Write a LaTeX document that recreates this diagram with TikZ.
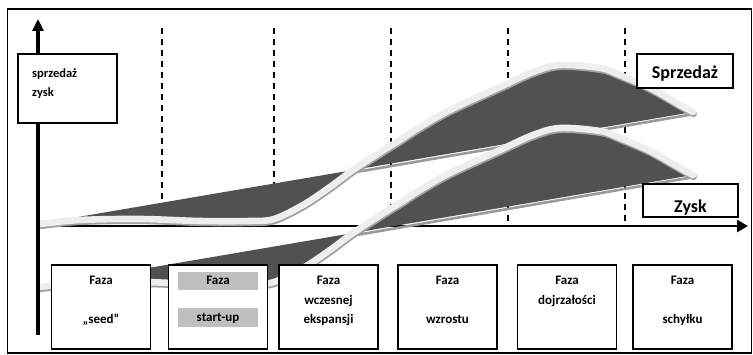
\documentclass[tikz,border=0pt]{standalone}
\usepackage{fontspec}
\setmainfont{Carlito}
\usetikzlibrary{arrows.meta}
\definecolor{ribdark}{HTML}{515151}
\definecolor{bandcol}{HTML}{EEEEEE}
\definecolor{bandshadow}{HTML}{A0A0A0}
\definecolor{edgeshadow}{HTML}{9A9A9A}
\definecolor{barcol}{HTML}{BFBFBF}
\newcommand\myribbon{%
  \draw[edgeshadow, line width=2.6pt] (80,219.5) -- (693,114.2);
  \fill[ribdark] plot[smooth,tension=0.55] coordinates {(40,224) (80,220) (140,219) (200,221) (250,221) (274,219) (303,205) (330,187) (353,170) (387,148) (400,140) (420,127) (450,110) (500,87) (533,72) (560,65) (600,68) (620,75) (650,88) (680,105) (693,112)} -- (78,217) -- cycle;
  \begin{scope}[shift={(0.6,1.8)}]
    \draw[bandshadow, line width=6.6pt, line cap=round] plot[smooth,tension=0.55] coordinates {(40,224) (80,220) (140,219) (200,221) (250,221) (274,219) (303,205) (330,187) (353,170) (387,148) (400,140) (420,127) (450,110) (500,87) (533,72) (560,65) (600,68) (620,75) (650,88) (680,105) (693,112)};
  \end{scope}
  \draw[bandcol, line width=6.6pt, line cap=round] plot[smooth,tension=0.55] coordinates {(40,224) (80,220) (140,219) (200,221) (250,221) (274,219) (303,205) (330,187) (353,170) (387,148) (400,140) (420,127) (450,110) (500,87) (533,72) (560,65) (600,68) (620,75) (650,88) (680,105) (693,112)};
}
\begin{document}
\begin{tikzpicture}[x=1pt,y=-1pt,
  dashline/.style={black, line width=1.8pt, dash pattern=on 6pt off 5pt},
  axisline/.style={black, line width=2.8pt},
  framebox/.style={draw=black, line width=1.8pt, fill=white, inner sep=0pt},
  phasebox/.style={framebox, minimum width=99pt, minimum height=84pt},
  ptext/.style={anchor=base, font=\bfseries\fontsize{13}{15}\selectfont, inner sep=0pt},
  ytext/.style={anchor=base west, font=\bfseries\fontsize{12.5}{15}\selectfont, inner sep=0pt},
  bigtext/.style={anchor=base, font=\bfseries\fontsize{18}{20}\selectfont, inner sep=0pt},
  graybar/.style={fill=barcol, minimum width=80pt, inner sep=0pt}
]
\useasboundingbox (0,0) rectangle (753,355);
\draw[black, line width=1.5pt] (7.5,9) rectangle (751.5,353);

% dashed phase separators
\foreach \x/\n in {162/d1,274/d2,391/d3,508/d4,625/d5}{
  \coordinate (\n t) at (\x,28);
  \coordinate (\n b) at (\x,226);
  \draw[dashline] (\n t) -- (\n b);
}

% x axis
\coordinate (xl) at (37,226);
\coordinate (xr) at (748,226);
\draw[axisline, -{Triangle[length=11pt,width=12pt]}] (xl) -- (xr);

% sales ribbon
\myribbon
% profit ribbon
\begin{scope}[shift={(0,63)}]
\myribbon
\end{scope}

% y axis
\coordinate (yb) at (38,335);
\coordinate (yt) at (38,19);
\draw[axisline, line width=3.2pt, -{Triangle[length=12pt,width=11pt]}] (yb) -- (yt);

% y label box
\node[framebox, minimum width=99pt, minimum height=69pt] (ylab) at (67.5,88.5) {};
\node[ytext] (ylab1) at (32,78) {sprzedaż};
\node[ytext] (ylab2) at (32,97) {zysk};

% curve labels
\node[framebox, minimum width=96pt, minimum height=34pt] (sbox) at (685,71) {};
\node[bigtext] (stext) at (685,79) {Sprzedaż};
\node[framebox, minimum width=95pt, minimum height=33pt] (zbox) at (690.5,200.5) {};
\node[bigtext] (ztext) at (690.5,212.5) {Zysk};

% phase boxes
\node[phasebox] (p1) at (101,307) {};
\node[ptext] (p1a) at (101,285) {Faza};
\node[ptext] (p1b) at (101,324) {„seed”};

\node[phasebox] (p2) at (218,307) {};
\node[graybar, minimum height=18pt] (p2bar1) at (218,281) {};
\node[graybar, minimum height=19pt] (p2bar2) at (218,317.5) {};
\node[ptext] (p2a) at (218,285) {Faza};
\node[ptext] (p2b) at (218,321.5) {start-up};

\node[phasebox] (p3) at (328.5,307) {};
\node[ptext] (p3a) at (328.5,285) {Faza};
\node[ptext] (p3b) at (328.5,304.5) {wczesnej};
\node[ptext] (p3c) at (328.5,324) {ekspansji};

\node[phasebox] (p4) at (447.5,307) {};
\node[ptext] (p4a) at (447.5,285) {Faza};
\node[ptext] (p4b) at (447.5,324) {wzrostu};

\node[phasebox] (p5) at (567,307) {};
\node[ptext] (p5a) at (567,285) {Faza};
\node[ptext] (p5b) at (567,304.5) {dojrzałości};

\node[phasebox] (p6) at (682.5,307) {};
\node[ptext] (p6a) at (682.5,285) {Faza};
\node[ptext] (p6b) at (682.5,324) {schyłku};
\end{tikzpicture}
\end{document}
